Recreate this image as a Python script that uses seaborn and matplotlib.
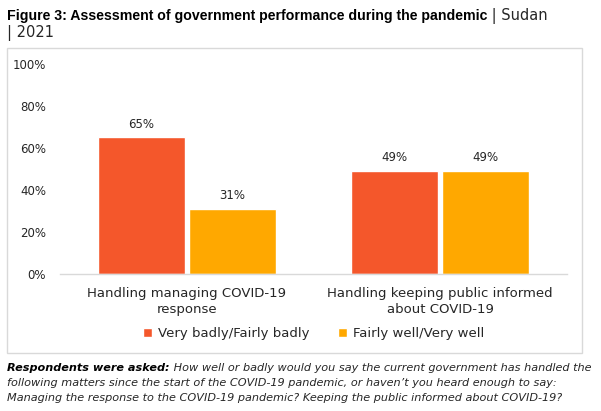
import matplotlib
matplotlib.use("Agg")
import matplotlib.pyplot as plt
import seaborn as sns
import pandas as pd
from matplotlib.patches import Rectangle
from matplotlib.ticker import FuncFormatter

categories = ["Handling managing COVID-19\nresponse", "Handling keeping public informed\nabout COVID-19"]
series_names = ["Very badly/Fairly badly", "Fairly well/Very well"]
very_badly = [65, 49]
fairly_well = [31, 49]
colors = ["#F4572B", "#FFA800"]
yticks = [0, 20, 40, 60, 80, 100]

rows = []
for c, v in zip(categories, very_badly):
    rows.append({"cat": c, "series": series_names[0], "val": v})
for c, v in zip(categories, fairly_well):
    rows.append({"cat": c, "series": series_names[1], "val": v})
df = pd.DataFrame(rows)

sns.set_theme(style="white")
plt.rcParams['font.family'] = ['DejaVu Sans']

W, H = 601, 411
fig = plt.figure(figsize=(W / 100, H / 100), dpi=100)
ax = fig.add_axes([60 / W, 1 - 274 / H, (567 - 60) / W, (274 - 64) / H])

sns.barplot(data=df, x="cat", y="val", hue="series", palette=colors, ax=ax,
            width=0.72, gap=0.045, saturation=1, legend=True, errorbar=None)

ax.set_ylim(0, 100)
ax.set_yticks(yticks)
ax.yaxis.set_major_formatter(FuncFormatter(lambda v, p: f"{int(v)}%"))
ax.set_xlabel("")
ax.set_ylabel("")
for s in ["top", "right", "left"]:
    ax.spines[s].set_visible(False)
ax.spines["bottom"].set_color("#D9D9D9")
ax.spines["bottom"].set_linewidth(1)
ax.tick_params(axis="y", length=0, pad=10, labelsize=8.5, labelcolor="#262626")
ax.tick_params(axis="x", length=0, pad=9, labelsize=9.5, labelcolor="#262626")
for lab in ax.get_xticklabels():
    lab.set_linespacing(1.35)

for cont in ax.containers:
    ax.bar_label(cont, labels=[f"{int(v)}%" for v in cont.datavalues], padding=5,
                 fontsize=8.5, color="#262626")

handles, labels = ax.get_legend_handles_labels()
ax.legend(handles, labels, loc="center", bbox_to_anchor=(0.5, -0.285), ncol=2, frameon=False,
          fontsize=9.5, handlelength=0.7, handleheight=0.7, handletextpad=0.4,
          columnspacing=2.2, labelcolor="#262626")

# frame
fig.patches.append(Rectangle((7 / W, 1 - 353 / H), (582 - 7) / W, (353 - 48) / H,
                             transform=fig.transFigure, fill=False, edgecolor="#D9D9D9",
                             linewidth=1))

fig.canvas.draw()
r = fig.canvas.get_renderer()

def seq_text(x, y, parts):
    for txt, kw in parts:
        t = fig.text(x, y, txt, va="baseline", ha="left", **kw)
        bb = t.get_window_extent(renderer=r)
        x = bb.x1 / W

seq_text(7 / W, 1 - 20 / H, [
    ("Figure 3: Assessment of government performance during the pandemic", dict(fontsize=10.2, fontweight="bold", family="Liberation Sans", color="black")),
    (" | Sudan", dict(fontsize=10.5, color="#262626")),
])
fig.text(7 / W, 1 - 37 / H, "| 2021", fontsize=10.5, color="#262626", va="baseline")

seq_text(7 / W, 1 - 371 / H, [
    ("Respondents were asked:", dict(fontsize=8.1, fontweight="bold", style="italic", color="black")),
    (" How well or badly would you say the current government has handled the", dict(fontsize=8.1, style="italic", color="#262626")),
])
fig.text(7 / W, 1 - 386 / H, "following matters since the start of the COVID-19 pandemic, or haven\u2019t you heard enough to say:",
         fontsize=8.1, style="italic", color="#262626", va="baseline")
fig.text(7 / W, 1 - 401 / H, "Managing the response to the COVID-19 pandemic? Keeping the public informed about COVID-19?",
         fontsize=8.1, style="italic", color="#262626", va="baseline")

fig.savefig("out.png", dpi=100)
